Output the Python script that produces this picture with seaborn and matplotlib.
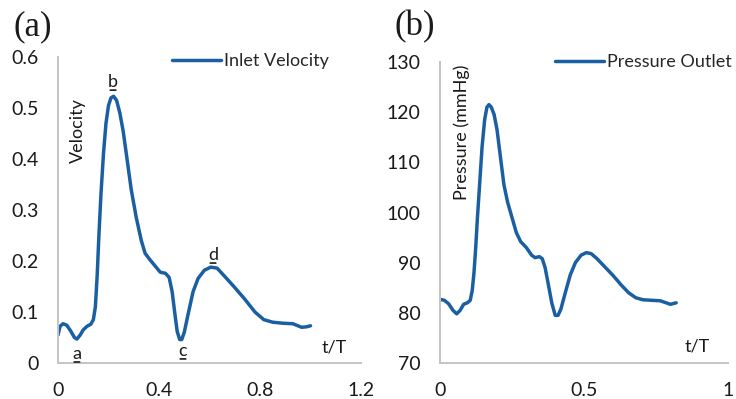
import matplotlib
matplotlib.use("Agg")
import matplotlib.pyplot as plt
import seaborn as sns
import pandas as pd

# ---- data ----
t_vel = [0.000, 0.008, 0.020, 0.035, 0.050, 0.065, 0.075, 0.088, 0.100, 0.115,
         0.130, 0.140, 0.148, 0.155, 0.162, 0.170, 0.180, 0.190, 0.200, 0.210,
         0.220, 0.232, 0.245, 0.258, 0.272, 0.290, 0.310, 0.330, 0.345, 0.365,
         0.385, 0.405, 0.425, 0.440, 0.452, 0.462, 0.472, 0.482, 0.490, 0.500,
         0.515, 0.535, 0.555, 0.580, 0.605, 0.630, 0.660, 0.700, 0.740, 0.780,
         0.815, 0.850, 0.890, 0.930, 0.950, 0.965, 0.985, 1.000]
velocity = [0.055, 0.072, 0.077, 0.074, 0.063, 0.050, 0.047, 0.055, 0.065, 0.072,
            0.076, 0.085, 0.110, 0.170, 0.250, 0.330, 0.410, 0.470, 0.505, 0.520,
            0.523, 0.515, 0.490, 0.455, 0.405, 0.340, 0.285, 0.240, 0.215, 0.202,
            0.190, 0.178, 0.176, 0.168, 0.140, 0.100, 0.062, 0.046, 0.046, 0.060,
            0.095, 0.140, 0.166, 0.182, 0.188, 0.186, 0.170, 0.148, 0.125, 0.100,
            0.085, 0.080, 0.078, 0.077, 0.073, 0.070, 0.071, 0.073]

t_pres = [0.000, 0.015, 0.030, 0.045, 0.058, 0.070, 0.082, 0.095, 0.105, 0.112,
          0.118, 0.124, 0.130, 0.138, 0.146, 0.155, 0.163, 0.170, 0.178, 0.188,
          0.198, 0.210, 0.222, 0.235, 0.250, 0.265, 0.280, 0.300, 0.318, 0.330,
          0.345, 0.355, 0.365, 0.375, 0.388, 0.400, 0.410, 0.420, 0.435, 0.452,
          0.470, 0.490, 0.508, 0.525, 0.545, 0.570, 0.600, 0.630, 0.655, 0.680,
          0.705, 0.735, 0.765, 0.785, 0.800, 0.820]
pressure = [82.7, 82.5, 81.8, 80.5, 79.8, 80.5, 81.7, 82.0, 82.5, 84.5,
            88.0, 93.0, 99.0, 106.0, 113.0, 118.5, 121.0, 121.5, 121.0, 119.5,
            116.5, 111.0, 105.5, 102.0, 99.0, 96.0, 94.2, 93.0, 91.5, 91.0,
            91.2, 90.8, 89.0, 86.0, 82.0, 79.5, 79.5, 80.8, 84.0, 87.5,
            90.0, 91.5, 92.0, 91.8, 90.8, 89.3, 87.5, 85.5, 84.0, 83.0,
            82.6, 82.5, 82.4, 82.0, 81.7, 82.0]

xticks_a = [0, 0.4, 0.8, 1.2]
xticklabels_a = ["0", "0.4", "0.8", "1.2"]
yticks_a = [0, 0.1, 0.2, 0.3, 0.4, 0.5, 0.6]
yticklabels_a = ["0", "0.1", "0.2", "0.3", "0.4", "0.5", "0.6"]
xticks_b = [0, 0.5, 1]
xticklabels_b = ["0", "0.5", "1"]
yticks_b = [70, 80, 90, 100, 110, 120, 130]
yticklabels_b = ["70", "80", "90", "100", "110", "120", "130"]

point_labels = ["a", "b", "c", "d"]
point_t = [0.075, 0.218, 0.495, 0.614]
point_v = [0.018, 0.551, 0.024, 0.212]

# ---- style ----
sns.set_style("white")
plt.rcParams["font.family"] = ["Lato", "DejaVu Sans"]
LINE = "#1b5fa3"
SPINE = "#c4c4c4"
TXT = "#1a1a1a"

df_a = pd.DataFrame({"t/T": t_vel, "Velocity": velocity})
df_b = pd.DataFrame({"t/T": t_pres, "Pressure": pressure})

fig = plt.figure(figsize=(7.36, 3.99), dpi=100)
ax_a = fig.add_axes([58 / 736, 1 - 363 / 399, (361 - 58) / 736, (363 - 57) / 399])
ax_b = fig.add_axes([440 / 736, 1 - 363 / 399, (728 - 440) / 736, (363 - 62) / 399])

sns.lineplot(data=df_a, x="t/T", y="Velocity", ax=ax_a, color=LINE, lw=2.5,
             sort=False, estimator=None, label="Inlet Velocity", legend=False)
sns.lineplot(data=df_b, x="t/T", y="Pressure", ax=ax_b, color=LINE, lw=2.5,
             sort=False, estimator=None, label="Pressure Outlet", legend=False)

for ax in (ax_a, ax_b):
    for s in ("top", "right"):
        ax.spines[s].set_visible(False)
    for s in ("left", "bottom"):
        ax.spines[s].set_color(SPINE)
        ax.spines[s].set_linewidth(1.4)
    ax.set_xlabel("")
    ax.set_ylabel("")
    ax.tick_params(labelsize=14, colors=TXT)

ax_a.set_xlim(0, 1.2)
ax_a.set_ylim(0, 0.6)
ax_a.set_xticks(xticks_a, xticklabels_a)
ax_a.set_yticks(yticks_a, yticklabels_a)
ax_a.tick_params(axis="both", length=4, width=1.2, color=SPINE, direction="out")
ax_a.tick_params(axis="x", pad=10)
ax_a.tick_params(axis="y", pad=10)

ax_b.set_xlim(0, 1)
ax_b.set_ylim(70, 130)
ax_b.set_xticks(xticks_b, xticklabels_b)
ax_b.set_yticks(yticks_b, yticklabels_b)
ax_b.tick_params(axis="both", length=0)
ax_b.tick_params(axis="x", pad=14)
ax_b.tick_params(axis="y", pad=14)

# in-plot labels (underlined letters)
for lab, tx, ty in zip(point_labels, point_t, point_v):
    ax_a.text(tx, ty, lab, fontsize=13, color=TXT, ha="center", va="center")
    ax_a.annotate("", xy=(tx - 0.022, ty - 0.016), xytext=(tx + 0.022, ty - 0.016),
                  arrowprops=dict(arrowstyle="-", color=TXT, lw=1.2),
                  annotation_clip=False)
ax_a.text(0.079, 0.455, "Velocity", rotation=90, fontsize=13, color=TXT,
          ha="center", va="center")
ax_a.text(1.093, 0.031, "t/T", fontsize=13, color=TXT, ha="center", va="center")
ax_b.text(0.076, 116, "Pressure (mmHg)", rotation=90, fontsize=13, color=TXT,
          ha="center", va="center")
ax_b.text(0.892, 73.2, "t/T", fontsize=13, color=TXT, ha="center", va="center")

# legends
ax_a.legend(loc="center left", bbox_to_anchor=(172 / 736, 1 - 61 / 399),
            bbox_transform=fig.transFigure, frameon=False, fontsize=13,
            handlelength=2.7, handletextpad=0.2, borderpad=0, borderaxespad=0)
ax_b.legend(loc="center left", bbox_to_anchor=(555 / 736, 1 - 62 / 399),
            bbox_transform=fig.transFigure, frameon=False, fontsize=13,
            handlelength=2.7, handletextpad=0.2, borderpad=0, borderaxespad=0)

# panel letters
fig.text(33 / 736, 1 - 27 / 399, "(a)", fontsize=25, family="Liberation Serif",
         ha="center", va="center", color=TXT)
fig.text(415 / 736, 1 - 27 / 399, "(b)", fontsize=25, family="Liberation Serif",
         ha="center", va="center", color=TXT)

fig.savefig("out.png", dpi=100)
